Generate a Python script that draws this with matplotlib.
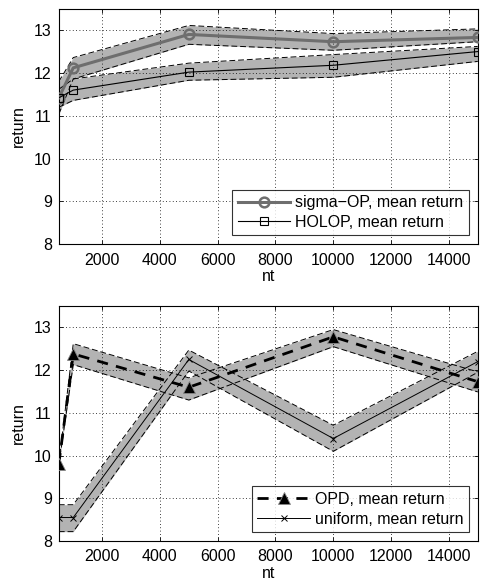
import numpy as np
import matplotlib as mpl; mpl.use('Agg'); import matplotlib.pyplot as plt
mpl.rcParams.update({'font.family':['Liberation Sans','DejaVu Sans'],'font.size':11.5,
                     'xtick.direction':'in','ytick.direction':'in','axes.linewidth':0.8})

nt=[500,1000,5000,10000,15000]
# top panel
sigma_mean=[11.42,12.12,12.90,12.73,12.83]
sigma_hi=[11.80,12.36,13.11,12.92,13.03]
sigma_lo=[11.04,11.86,12.67,12.53,12.73]
holop_mean=[11.42,11.60,12.02,12.18,12.50]
holop_hi=[11.62,11.86,12.23,12.43,12.62]
holop_lo=[11.20,11.36,11.83,11.90,12.27]
# bottom panel
opd_mean=[9.80,12.38,11.60,12.78,11.73]
opd_hi=[9.82,12.62,11.82,12.95,11.96]
opd_lo=[9.78,12.13,11.30,12.55,11.49]
uni_mean=[8.55,8.55,12.25,10.40,12.20]
uni_hi=[8.85,8.85,12.47,10.71,12.44]
uni_lo=[8.22,8.22,11.98,10.10,11.95]

xticks=[2000,4000,6000,8000,10000,12000,14000]
yticks=[8,9,10,11,12,13]
band='#b3b3b3'

fig=plt.figure(figsize=(4.86,5.83),dpi=100)
ax1=fig.add_axes([0.121,0.581,0.862,0.404])
ax2=fig.add_axes([0.121,0.072,0.862,0.403])

def bandplot(ax,m,hi,lo):
    ax.fill_between(nt,lo,hi,color=band,lw=0,zorder=1)
    ax.plot(nt,hi,'k--',lw=0.7,dashes=(6,3),zorder=2)
    ax.plot(nt,lo,'k--',lw=0.7,dashes=(6,3),zorder=2)

bandplot(ax1,sigma_mean,sigma_hi,sigma_lo)
bandplot(ax1,holop_mean,holop_hi,holop_lo)
ax1.plot(nt,sigma_mean,'-o',color='#6e6e6e',lw=2.2,ms=7,mfc='none',mew=1.8,zorder=4,label='sigma\u2212OP, mean return')
ax1.plot(nt,holop_mean,'-s',color='k',lw=0.8,ms=5.5,mfc='none',mew=0.8,zorder=4,label='HOLOP, mean return')

bandplot(ax2,opd_mean,opd_hi,opd_lo)
bandplot(ax2,uni_mean,uni_hi,uni_lo)
ax2.plot(nt,opd_mean,'--^',color='k',lw=2.0,dashes=(4,3),ms=8,mfc='k',mec='#888888',mew=0.6,zorder=4,label='OPD, mean return')
ax2.plot(nt,uni_mean,'-x',color='k',lw=0.7,ms=5,mew=0.7,zorder=4,label='uniform, mean return')

for ax in (ax1,ax2):
    ax.set_xlim(500,15000); ax.set_ylim(8,13.5)
    ax.set_xticks(xticks); ax.set_yticks(yticks)
    ax.tick_params(length=3,width=0.6,labelsize=11.5,top=True,right=True,pad=5)
    ax.tick_params(axis='x',pad=6)
    ax.grid(True,ls=(0,(1,3)),color='k',lw=0.6)
    ax.set_axisbelow(False)
    ax.set_xlabel('nt',labelpad=1); ax.set_ylabel('return',labelpad=6)
    leg=ax.legend(loc='lower right',fontsize=11.5,frameon=True,fancybox=False,edgecolor='k',
                  borderaxespad=0.55,handlelength=3.3,borderpad=0.35,labelspacing=0.3,handletextpad=0.3)
    leg.get_frame().set_linewidth(0.8)
    leg.set_zorder(10)

fig.savefig('out.png',dpi=100)
